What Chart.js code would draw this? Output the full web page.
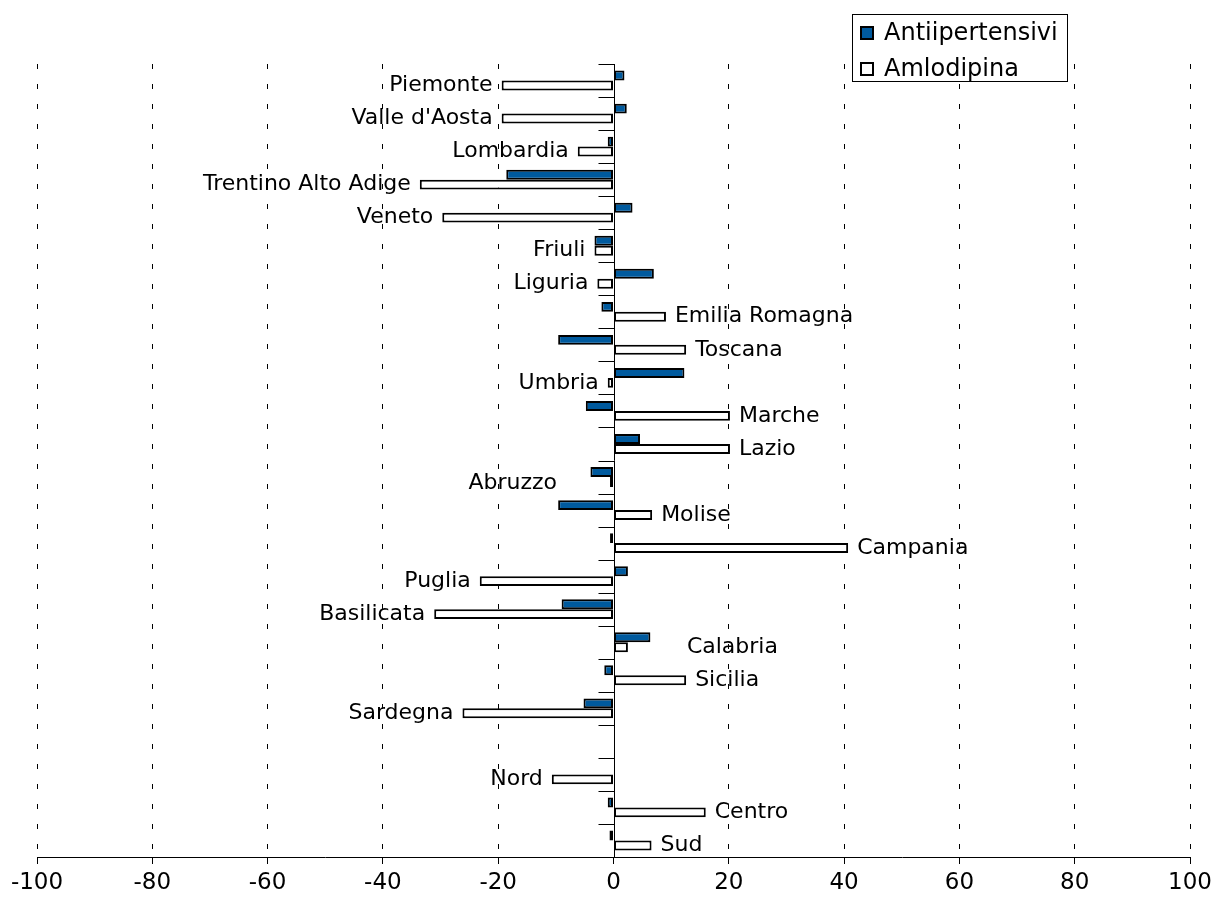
<!DOCTYPE html>
<html>
<head>
<meta charset="utf-8">
<script src="https://cdn.jsdelivr.net/npm/chart.js@4/dist/chart.umd.min.js"></script>
<style>
html,body{margin:0;padding:0;background:#fff;}
canvas{display:block;}
</style>
</head>
<body>
<canvas id="c" width="1215" height="900"></canvas>
<script>
// ---- data ----
const categories = ["Piemonte","Valle d'Aosta","Lombardia","Trentino Alto Adige","Veneto","Friuli","Liguria","Emilia Romagna","Toscana","Umbria","Marche","Lazio","Abruzzo","Molise","Campania","Puglia","Basilicata","Calabria","Sicilia","Sardegna","","Nord","Centro","Sud"];
const antiipertensivi = [1.9, 2.3, -1.0, -18.6, 3.3, -3.3, 7.0, -2.1, -9.6, 12.3, -4.8, 4.6, -4.0, -9.6, -0.6, 2.5, -9.0, 6.4, -1.6, -5.2, null, null, -1.0, -0.7];
const amlodipina = [-19.4, -19.4, -6.2, -33.6, -29.7, -3.3, -2.8, 9.1, 12.6, -1.0, 20.2, 20.2, -0.6, 6.7, 40.7, -23.2, -31.1, 2.5, 12.6, -26.2, null, -10.7, 16.0, 6.6];
const xTickValues = [-100, -80, -60, -40, -20, 0, 20, 40, 60, 80, 100];
const seriesNames = ["Antiipertensivi", "Amlodipina"];

// ---- style ----
const FONT = "'DejaVu Sans', Verdana, sans-serif";
const BLUE = '#005a9e';
const labelShift = { "Abruzzo": {dx: -44, dy: 1.5}, "Calabria": {dx: 50, dy: 0} };

const overlay = {
  id: 'overlay',
  beforeDatasetsDraw(chart) {
    const {ctx, chartArea, scales: {x, y}} = chart;
    const x0 = Math.round(x.getPixelForValue(0)) + 0.5;
    ctx.save();
    ctx.strokeStyle = '#000';
    ctx.lineWidth = 1;
    ctx.beginPath();
    ctx.moveTo(x0, chartArea.top);
    ctx.lineTo(x0, chartArea.bottom);
    ctx.stroke();
    const n = categories.length;
    const step = y.getPixelForValue(1) - y.getPixelForValue(0);
    for (let i = 0; i <= n; i++) {
      const yy = Math.round(y.getPixelForValue(0) - step / 2 + i * step) + 0.5;
      ctx.beginPath();
      ctx.moveTo(x0 - 16, yy);
      ctx.lineTo(x0, yy);
      ctx.stroke();
    }
    ctx.restore();
  },
  afterDatasetsDraw(chart) {
    const {ctx} = chart;
    const meta = chart.getDatasetMeta(1);
    ctx.save();
    ctx.font = '22px ' + FONT;
    ctx.fillStyle = '#000';
    ctx.textBaseline = 'middle';
    categories.forEach((name, i) => {
      if (!name) return;
      const el = meta.data[i];
      const v = amlodipina[i];
      const s = labelShift[name] || {dx: 0, dy: 0};
      if (v < 0) {
        ctx.textAlign = 'right';
        ctx.fillText(name, el.x - 9 + s.dx, el.y + s.dy);
      } else {
        ctx.textAlign = 'left';
        ctx.fillText(name, el.x + 9 + s.dx, el.y + s.dy);
      }
    });
    ctx.restore();
  },
  afterDraw(chart) {
    const {ctx} = chart;
    ctx.save();
    // legend box
    ctx.fillStyle = '#fff';
    ctx.fillRect(852, 14, 216, 68);
    ctx.strokeStyle = '#000';
    ctx.lineWidth = 1;
    ctx.strokeRect(852.5, 14.5, 215, 67);
    const fills = [BLUE, '#fff'];
    const ys = [33, 69];
    ctx.font = '24px ' + FONT;
    ctx.textBaseline = 'middle';
    ctx.textAlign = 'left';
    seriesNames.forEach((nm, k) => {
      ctx.fillStyle = fills[k];
      ctx.fillRect(860, ys[k] - 7, 14, 14);
      ctx.lineWidth = 2;
      ctx.strokeStyle = '#000';
      ctx.strokeRect(861, ys[k] - 6, 12, 12);
      ctx.fillStyle = '#000';
      ctx.fillText(nm, 884, ys[k] + 1);
    });
    ctx.restore();
  }
};

new Chart(document.getElementById('c'), {
  type: 'bar',
  data: {
    labels: categories,
    datasets: [
      { label: seriesNames[0], data: antiipertensivi, backgroundColor: BLUE, borderColor: '#000', borderWidth: 2, borderSkipped: false },
      { label: seriesNames[1], data: amlodipina, backgroundColor: '#fff', borderColor: '#000', borderWidth: 2, borderSkipped: false }
    ]
  },
  options: {
    indexAxis: 'y',
    responsive: false,
    animation: false,
    devicePixelRatio: 1,
    layout: { padding: { left: 37, right: 25, top: 64, bottom: 0 } },
    datasets: { bar: { categoryPercentage: 0.6, barPercentage: 1.0 } },
    plugins: { legend: { display: false }, tooltip: { enabled: false } },
    scales: {
      x: {
        type: 'linear',
        min: -100, max: 100,
        afterBuildTicks: s => { s.ticks = xTickValues.map(v => ({ value: v })); },
        afterFit: s => { s.height = 43; s.paddingLeft = 0; s.paddingRight = 0; },
        grid: {
          color: c => (c.tick && c.tick.value === 0) ? 'rgba(0,0,0,0)' : '#000',
          lineWidth: 1,
          tickColor: '#000',
          tickLength: 7,
          drawTicks: true
        },
        border: { display: true, color: '#000', width: 1, dash: [5, 15] },
        ticks: { color: '#000', font: { family: FONT, size: 23 }, padding: 5, maxRotation: 0, autoSkip: false }
      },
      y: { type: 'category', display: false, offset: true, grid: { display: false } }
    }
  },
  plugins: [overlay]
});
</script>
</body>
</html>
